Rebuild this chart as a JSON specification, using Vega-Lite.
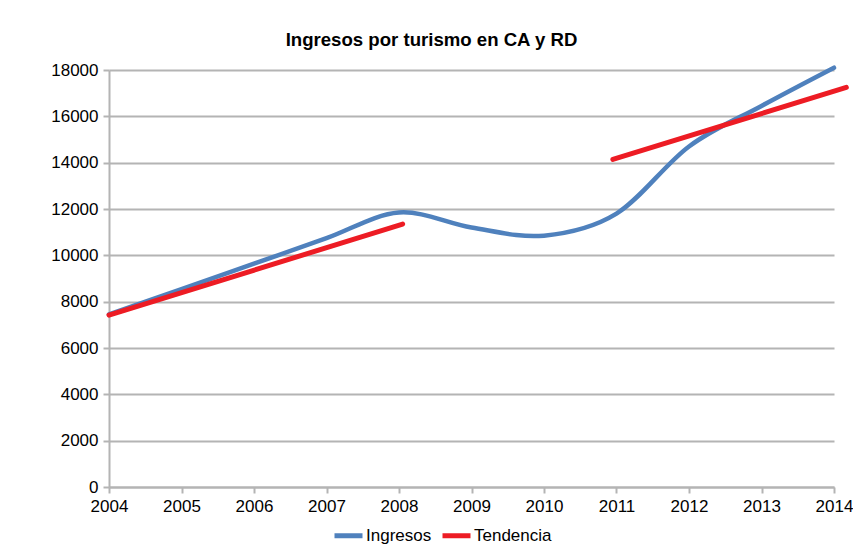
{
  "$schema": "https://vega.github.io/schema/vega-lite/v6.json",
  "width": 725,
  "height": 417,
  "autosize": {"type": "none"},
  "padding": {"left": 109, "top": 70, "right": 19, "bottom": 63},
  "background": "white",
  "title": {
    "text": "Ingresos por turismo en CA y RD",
    "anchor": "middle",
    "dx": -40,
    "offset": 9,
    "font": "Liberation Sans",
    "fontSize": 18.6,
    "fontWeight": "bold",
    "color": "#000000"
  },
  "config": {
    "view": {"stroke": null},
    "axis": {
      "labelFont": "Liberation Sans",
      "labelFontSize": 17,
      "labelColor": "#000000",
      "domainColor": "#b4b4b4",
      "domainWidth": 2,
      "tickColor": "#b4b4b4",
      "tickWidth": 2,
      "tickSize": 6,
      "gridColor": "#b4b4b4",
      "gridWidth": 2,
      "title": null
    },
    "legend": {
      "labelFont": "Liberation Sans",
      "labelFontSize": 17,
      "labelColor": "#000000",
      "padding": 0
    }
  },
  "datasets": {
    "ingresos": [
      {"year": 2004, "value": 7450, "serie": "Ingresos"},
      {"year": 2005, "value": 8540, "serie": "Ingresos"},
      {"year": 2006, "value": 9640, "serie": "Ingresos"},
      {"year": 2007, "value": 10740, "serie": "Ingresos"},
      {"year": 2008, "value": 11850, "serie": "Ingresos"},
      {"year": 2009, "value": 11200, "serie": "Ingresos"},
      {"year": 2010, "value": 10850, "serie": "Ingresos"},
      {"year": 2011, "value": 11800, "serie": "Ingresos"},
      {"year": 2012, "value": 14700, "serie": "Ingresos"},
      {"year": 2013, "value": 16450, "serie": "Ingresos"},
      {"year": 2014, "value": 18100, "serie": "Ingresos"}
    ],
    "tendencia": [
      {"year": 2004, "value": 7420, "serie": "Tendencia", "tramo": "a"},
      {"year": 2008.05, "value": 11350, "serie": "Tendencia", "tramo": "a"},
      {"year": 2010.95, "value": 14140, "serie": "Tendencia", "tramo": "b"},
      {"year": 2014.17, "value": 17250, "serie": "Tendencia", "tramo": "b"}
    ]
  },
  "encoding": {
    "x": {
      "field": "year",
      "type": "quantitative",
      "scale": {"domain": [2004, 2014], "nice": false, "zero": false},
      "axis": {"values": [2004, 2005, 2006, 2007, 2008, 2009, 2010, 2011, 2012, 2013, 2014], "format": "d", "grid": false, "labelPadding": 5, "labelFlush": false}
    },
    "y": {
      "field": "value",
      "type": "quantitative",
      "scale": {"domain": [0, 18000], "nice": false},
      "axis": {"values": [0, 2000, 4000, 6000, 8000, 10000, 12000, 14000, 16000, 18000], "format": "d", "labelPadding": 5}
    },
    "color": {
      "field": "serie",
      "type": "nominal",
      "scale": {"domain": ["Ingresos", "Tendencia"], "range": ["#4f81bd", "#ed1c24"]},
      "legend": {
        "title": null,
        "orient": "none",
        "direction": "horizontal",
        "legendX": 223,
        "legendY": 449,
        "symbolType": "stroke",
        "symbolStrokeWidth": 5,
        "symbolSize": 784,
        "labelOffset": 1,
        "columnPadding": 0
      }
    }
  },
  "layer": [
    {
      "data": {"name": "ingresos"},
      "mark": {"type": "line", "strokeWidth": 4.5, "interpolate": "cardinal", "strokeCap": "round", "clip": false}
    },
    {
      "data": {"name": "tendencia"},
      "mark": {"type": "line", "strokeWidth": 5, "strokeCap": "round", "clip": false},
      "encoding": {"detail": {"field": "tramo"}}
    }
  ]
}
